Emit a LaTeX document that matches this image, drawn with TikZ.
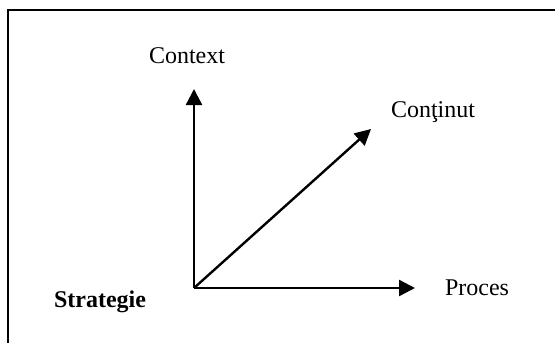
\documentclass[tikz,border=0pt]{standalone}
\usepackage{fontspec}
\setmainfont{Liberation Serif}
\usetikzlibrary{arrows.meta}
\tikzset{
  axis/.style={line width=1.2pt,-{Triangle[length=8pt,width=8pt]}},
  lbl/.style={inner sep=0pt,font=\fontsize{12pt}{14pt}\selectfont},
  frame/.style={line width=1.1pt}
}
\begin{document}
\begin{tikzpicture}[x=0.5pt,y=-0.5pt]
\useasboundingbox (0,0) rectangle (555,342);
\coordinate (bl) at (8,343);
\coordinate (tl) at (8,10);
\coordinate (tr) at (556,10);
\draw[frame] (bl) -- (tl) -- (tr);
\coordinate (O) at (194,288);
\coordinate (ctxtip) at (194,89);
\coordinate (proctip) at (415,288);
\coordinate (conttip) at (371,129);
\draw[axis] (O) -- (ctxtip);
\draw[axis] (O) -- (proctip);
\draw[axis] (O) -- (conttip);
\node[lbl] (ctx) at (187,56) {Context};
\node[lbl] (cont) at (433,112) {Conţinut};
\node[lbl] (proc) at (477,288) {Proces};
\node[lbl,font=\fontsize{12pt}{14pt}\selectfont\bfseries] (strat) at (100,302) {Strategie};
\end{tikzpicture}
\end{document}
